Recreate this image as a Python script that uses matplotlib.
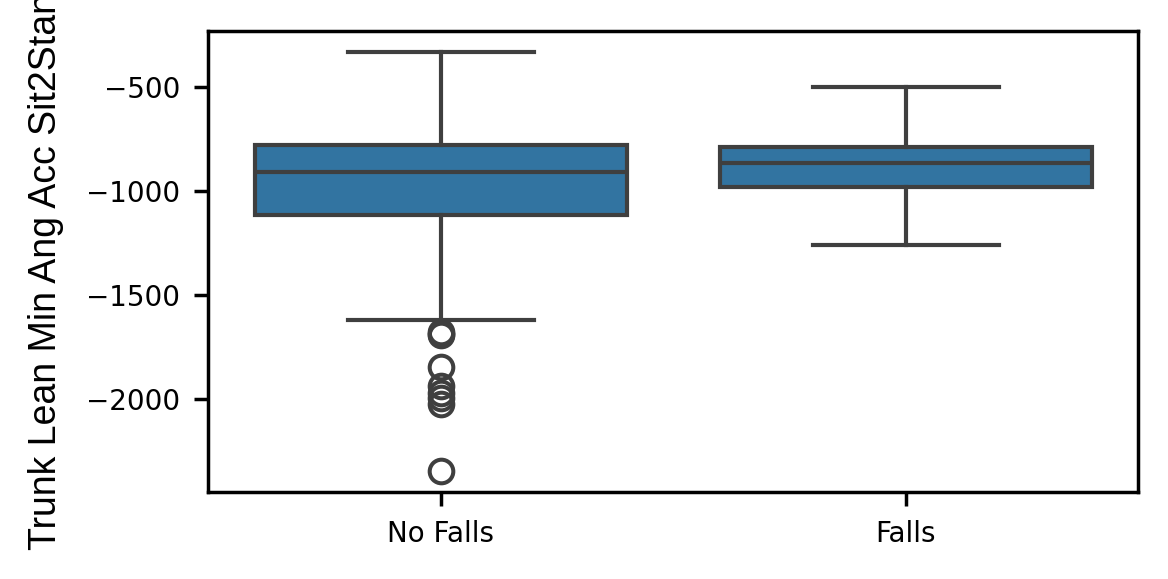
import matplotlib
matplotlib.use("Agg")
import matplotlib.pyplot as plt

categories = ["No Falls", "Falls"]
whisker_high = [-333, -500]
q3_values = [-782, -787]
medians = [-911, -868]
q1_values = [-1117, -983]
whisker_low = [-1620, -1258]
fliers_no_falls = [-1677, -1685, -1692, -1845, -1935, -1970, -1995, -2025, -2345]
fliers_falls = []
fliers = [fliers_no_falls, fliers_falls]
ylabel = "Trunk Lean Min Ang Acc Sit2Stand"

box_color = "#3274a1"
line_color = "#3f3f3f"

stats = []
for i, cat in enumerate(categories):
    stats.append(dict(label=cat, med=medians[i], q1=q1_values[i], q3=q3_values[i],
                      whislo=whisker_low[i], whishi=whisker_high[i], fliers=fliers[i]))

fig = plt.figure(figsize=(5.84, 2.895), dpi=200)
ax = fig.add_axes([208/1168, 1 - 492/579, (1138-208)/1168, (492-31)/579])

lw = 1.5
ax.bxp(stats, positions=list(range(len(categories))), widths=0.8, capwidths=0.4,
       patch_artist=True,
       boxprops=dict(facecolor=box_color, edgecolor=line_color, linewidth=lw),
       medianprops=dict(color=line_color, linewidth=lw),
       whiskerprops=dict(color=line_color, linewidth=lw),
       capprops=dict(color=line_color, linewidth=lw),
       flierprops=dict(marker="o", markerfacecolor="none", markeredgecolor=line_color,
                       markersize=8.5, markeredgewidth=1.45))

ax.set_xlim(-0.5, len(categories) - 0.5)
ax.set_xticks(range(len(categories)))
ax.set_xticklabels(categories)
ax.set_yticks([-2000, -1500, -1000, -500])
ax.tick_params(axis="both", labelsize=10, length=5, width=1.25, pad=5)
for s in ax.spines.values():
    s.set_linewidth(1.25)
ax.set_ylabel(ylabel, fontsize=13.5, family="Liberation Sans", labelpad=8)

fig.savefig("out.png", dpi=200)
